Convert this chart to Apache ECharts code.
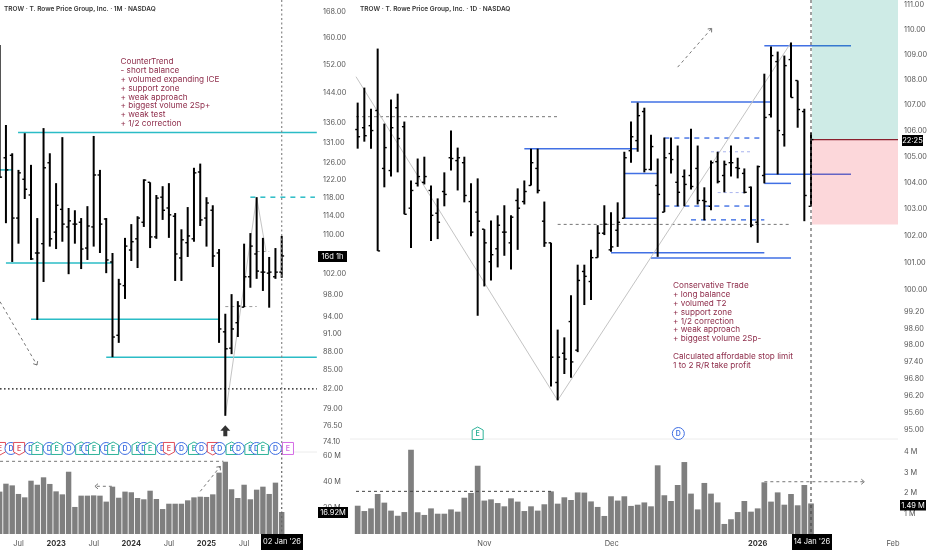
<!DOCTYPE html>
<html><head><meta charset="utf-8">
<style>html,body{margin:0;padding:0;background:#fff}#c{width:932px;height:550px}</style>
<script src="https://cdn.jsdelivr.net/npm/echarts@6/dist/echarts.min.js"></script>
</head><body><div id="c"></div>
<script>
// ---------- Monthly chart data ----------
const monthlyOpen=[136.8,127.3,127.9,113.5,122.2,118.6,106.2,108.1,126.1,110.5,115.4,111.6,112.2,112.6,107.2,111.6,123.2,113.3,104.4,90.8,99.8,106.8,109.1,112.6,121.5,109.5,118.1,115.7,113.9,105.2,108.3,109.1,123.9,113.5,115.2,106.2,91.4,88.6,93.0,95.8,101.5,106.0,102.4,102.2,101.5,102.4];
const monthlyHigh=[157.8,135.5,128.4,124.4,133.4,125.6,113.5,134.7,128.4,121.3,132.4,115.7,115.2,113.5,116.1,132.7,124.4,113.5,106.2,101.1,109.3,112.2,113.9,122.2,121.5,118.6,120.6,121.3,114.6,111.1,115.9,124.9,125.9,118.1,116.3,107.0,94.6,98.2,96.9,108.1,110.3,118.1,109.3,105.4,107.2,109.7];
const monthlyLow=[122.5,112.4,104.4,108.1,117.7,104.8,93.5,100.5,107.5,107.0,108.5,102.0,108.1,103.0,104.8,107.5,106.2,102.2,87.1,89.5,97.3,104.6,103.2,111.6,107.2,109.1,113.1,109.3,100.7,100.7,105.4,108.5,111.8,107.5,103.4,89.5,77.9,87.6,90.5,95.8,99.4,101.1,98.8,95.7,101.1,101.3];
const monthlyClose=[122.7,124.4,113.5,123.7,119.9,105.0,106.2,124.9,109.1,116.3,112.2,112.9,112.2,107.0,111.8,123.2,112.2,104.8,90.5,100.1,107.6,108.5,113.5,122.0,109.5,117.9,115.2,114.2,106.0,108.9,109.7,123.7,113.1,116.8,105.6,91.9,88.5,91.9,96.0,101.5,107.6,102.6,102.4,102.4,102.4,105.6];
const monthlyVolume=[32.6,38.7,37.4,30.8,28.2,41.0,37.9,43.6,38.5,32.8,30.5,47.9,20.8,29.5,29.5,29.7,29.5,24.9,36.4,27.9,32.6,32.1,27.7,26.7,33.3,26.9,19.2,23.3,23.3,23.3,25.9,28.2,28.7,28.5,30.5,47.2,55.6,34.4,27.7,37.9,26.7,34.1,36.4,30.8,39.5,16.92];
const monthlyPriceTicks=[168,160,152,144,136,131,126,122,118,114,110,102,98,94,91,88,85,82,79,76.5,74.1];
const monthlyVolumeTicks=[20,40,60];
const monthlyDateIdx=[3,9,15,21,27,33,39];
const monthlyDateText=['Jul','2023','Jul','2024','Jul','2025','Jul'];
// level lines [from bar, to bar, price]
const monthlyTeal=[[0,2,124.4],[2.93,50.6,133.6],[1,18,104.2],[5,35,93.6],[17,50.6,87.1]];
const monthlyTealDash=[[40,50.3,118.1]];
const monthlyBlackDots=[[0.06,50.6,82.0]];
const monthlyGreyDash=[[36,41,95.9],[41,43,106.5]];
const monthlyTrend=[[36,77.9,41,118.1],[41,118.1,42.5,106.5]];
const monthlyArrows=[[0.06,96.8,5.95,85.8]];
const monthlyVolDash=[[0.06,55.9,35.7,55.9]];
const monthlyVolArrows=[[17.9,36.7,15.2,36.7],[32,32.8,35.2,52]];
const monthlyEventIdx=[0.05,1.8,3.1,4.95,6,7.9,9.1,11.05,13,14,15.05,17,18.1,20,22,23,24,26,27,29,31,32.2,34,35.1,37,38.1,40,41,42,44,46];
const monthlyEventKind=['R','D','R','D','G','D','G','D','G','D','G','D','G','D','G','D','G','D','R','D','G','D','R','D','G','D','G','D','G','D','V'];
const monthlyEventPrice=73.2;
const buyArrow=[[36,75.7]];

// ---------- Daily chart data ----------
const dailyOpen=[106.05,106.12,106.20,106.79,104.55,104.47,106.90,106.16,103.04,103.98,104.02,103.71,102.85,103.67,104.96,104.85,104.77,103.29,102.89,102.25,101.04,101.52,102.14,101.74,103.33,103.29,103.90,104.55,102.55,101.74,96.67,97.71,98.85,97.82,100.68,100.31,101.19,102.10,101.48,102.21,102.66,105.23,105.62,106.75,104.51,103.90,102.89,105.12,104.02,104.24,104.28,104.55,103.33,103.11,104.81,104.28,104.77,104.58,104.36,103.83,102.51,104.28,106.63,108.72,105.85,108.80,107.97,106.75,103.11];
const dailyHigh=[107.10,107.69,106.86,109.24,106.28,107.22,107.45,106.36,104.09,104.93,105.00,103.90,103.41,104.40,106.01,105.35,105.00,103.98,104.17,102.25,102.58,102.77,103.15,102.77,103.79,104.09,105.31,105.31,103.29,101.74,98.56,98.28,99.81,100.93,100.93,101.48,102.40,103.15,102.89,103.26,105.19,106.36,107.10,106.90,105.85,104.93,105.74,105.74,105.43,104.51,106.08,105.43,103.83,104.85,105.19,104.85,105.43,104.96,104.55,103.86,104.66,108.24,109.32,109.12,108.96,109.48,107.97,106.86,105.93];
const dailyLow=[105.31,105.58,105.31,101.44,103.83,104.24,104.40,102.81,101.55,103.86,103.94,101.81,101.88,103.11,104.47,103.71,103.26,101.99,99.06,100.13,100.35,100.83,101.26,100.75,101.48,103.18,103.90,103.60,101.59,96.53,96.04,96.97,96.84,97.75,99.45,99.63,101.19,102.03,101.41,101.59,102.66,104.77,105.19,104.40,104.47,101.22,102.89,104.36,103.11,103.11,103.75,103.18,102.58,102.96,103.98,103.64,104.24,104.17,103.60,102.32,101.74,103.98,106.52,104.32,105.39,107.30,106.12,102.55,103.11];
const dailyClose=[105.77,105.81,106.01,101.44,105.35,106.12,105.70,102.81,103.71,104.24,104.24,102.77,102.51,103.56,104.93,104.96,103.52,102.14,102.55,101.74,101.30,102.40,102.14,102.70,103.04,103.67,104.77,103.71,101.74,97.57,97.57,97.50,97.40,100.35,100.50,101.19,102.10,102.44,101.59,102.51,104.96,105.77,106.59,104.51,105.39,103.56,104.96,104.89,103.64,103.94,103.86,103.33,103.29,104.77,104.05,104.70,104.77,104.55,103.64,102.40,104.62,106.52,108.96,106.01,108.56,107.30,106.83,103.52,105.66];
const dailyVolume=[1.38,1.12,1.25,1.95,1.53,1.14,0.89,1.07,4.11,1.06,0.93,1.25,0.99,0.99,1.20,1.09,1.77,2.00,3.33,1.63,1.69,1.51,1.35,1.74,1.58,1.12,1.35,1.14,1.45,2.08,1.48,1.79,1.66,2.03,2.02,1.59,1.32,0.88,1.84,1.63,1.84,1.37,1.43,1.54,1.35,3.35,1.89,1.61,2.39,3.51,1.97,1.20,2.49,1.97,1.54,0.49,0.72,1.07,1.61,1.09,1.25,2.52,1.58,2.03,1.43,1.95,1.40,2.39,1.49];
const dailyPriceTicks=[111,110,109,108,107,106,105,104,103,102,101,100,99.2,98.6,98,97.4,96.8,96.2,95.6,95];
const dailyVolumeTicks=[1,2,3,4];
const dailyDateIdx=[19,38.1,60,80.3];
const dailyDateText=['Nov','Dec','2026','Feb'];
const dailyBlue=[[25,42,105.31],[41,62,107.12],[40,45,104.36],[40,45,102.66],[38,61,101.37],[44,65,101.18],[61,74,109.35],[61,74,104.33],[61,65,103.98]];
const dailyBlueDash=[[46,61,105.72],[46,59,103.12],[50,61,102.6]];
const dailyLilacDash=[[53,59,105.19],[54,58,103.63]];
const dailyGreyDash=[[-0.25,30,106.55],[30,65,102.43]];
const dailyTrend=[[-0.25,108.12,30,96.04],[30,96.04,65,109.48]];
const dailyArrows=[[48,108.5,53.1,110.05]];
const dailyVolDash=[[-0.25,2.08,29,2.08]];
const dailyVolArrows=[[61,2.55,76,2.55]];
const dailyEventIdx=[18,48.1];
const dailyEventKind=['G','D'];
const dailyEventPrice=94.88;
const entryPrice=105.66, stopPrice=102.43, targetPrice=111.2, boxFrom=68.15, boxTo=81.05;

// ---------- Axis extents ----------
const mPriceMin=72.71, mPriceMax=171.9, mXMin=0.0527, mXMax=50.63, mVolMax=62.3;
const dPriceMin=94.69, dPriceMax=111.2, dXMin=-1.15, dXMax=81.05, dVolMax=4.634;

const TXT='#555', UI='Inter, "Liberation Sans", sans-serif';
const COL={R:'#e0505c',G:'#2fb39a',D:'#3f6fe3',V:'#d56be6'};

function ohlc(xi,yi,o,h,l,c){
  return {type:'custom',xAxisIndex:xi,yAxisIndex:yi,z:5,silent:true,clip:false,
    data:o.map((v,i)=>[i,v,h[i],l[i],c[i]]),encode:{x:0,y:[1,2,3,4]},
    renderItem(p,api){
      const i=api.value(0),co=api.coord([i,api.value(1)]),ch=api.coord([i,api.value(2)]),
            cl=api.coord([i,api.value(3)]),cc=api.coord([i,api.value(4)]);
      const st={stroke:'#000',lineWidth:2}, tk={stroke:'#000',lineWidth:1.4};
      return {type:'group',children:[
        {type:'line',shape:{x1:ch[0],y1:ch[1],x2:cl[0],y2:cl[1]},style:st},
        {type:'line',shape:{x1:co[0]-2.4,y1:co[1],x2:co[0],y2:co[1]},style:tk},
        {type:'line',shape:{x1:cc[0],y1:cc[1],x2:cc[0]+2.4,y2:cc[1]},style:tk}]};
    }};
}
function segs(xi,yi,rows,style,arrow,z){
  return {type:'custom',xAxisIndex:xi,yAxisIndex:yi,z:z||2,silent:true,clip:false,
    data:rows,encode:{x:[0,2],y:[1,3]},
    renderItem(p,api){
      const a=api.coord([api.value(0),api.value(1)]),b=api.coord([api.value(2),api.value(3)]);
      const ch=[{type:'line',shape:{x1:a[0],y1:a[1],x2:b[0],y2:b[1]},style:style}];
      if(arrow){
        const t=Math.atan2(b[1]-a[1],b[0]-a[0]),L=4;
        ch.push({type:'polyline',shape:{points:[
          [b[0]-L*Math.cos(t-0.7),b[1]-L*Math.sin(t-0.7)],b,
          [b[0]-L*Math.cos(t+0.7),b[1]-L*Math.sin(t+0.7)]]},
          style:{stroke:style.stroke,lineWidth:1,fill:null}});
      }
      return {type:'group',children:ch};
    }};
}
const lv=r=>r.map(v=>[v[0],v[2],v[1],v[2]]);
function rects(xi,yi,rows,fill){
  return {type:'custom',xAxisIndex:xi,yAxisIndex:yi,z:3,silent:true,clip:false,data:rows,encode:{x:[0,2],y:[1,3]},
    renderItem(p,api){
      const a=api.coord([api.value(0),api.value(1)]),b=api.coord([api.value(2),api.value(3)]);
      return {type:'rect',shape:{x:a[0],y:a[1],width:b[0]-a[0],height:b[1]-a[1]},style:{fill:fill}};
    }};
}
function events(xi,yi,idx,kinds,price){
  return {type:'custom',xAxisIndex:xi,yAxisIndex:yi,z:6,silent:true,clip:false,
    data:idx.map(v=>[v,price]),encode:{x:0,y:1},
    renderItem(p,api){
      const k=kinds[p.dataIndex],c=api.coord([api.value(0),api.value(1)]),col=COL[k],x=c[0],y=c[1],r=6;
      let shape;
      if(k==='D') shape={type:'circle',shape:{cx:x,cy:y,r:r},style:{fill:'#fff',stroke:col,lineWidth:1}};
      else{
        let pts;
        if(k==='G') pts=[[x,y-r-0.5],[x+r-0.5,y-r+2.5],[x+r-0.5,y+r],[x-r+0.5,y+r],[x-r+0.5,y-r+2.5]];
        else if(k==='R') pts=[[x-r+0.5,y-r],[x+r-0.5,y-r],[x+r-0.5,y+r-2.5],[x,y+r+0.5],[x-r+0.5,y+r-2.5]];
        else pts=[[x-r+0.5,y-r],[x+r-0.5,y-r],[x+r-0.5,y+r],[x-r+0.5,y+r]];
        shape={type:'polygon',shape:{points:pts},style:{fill:'#fff',stroke:col,lineWidth:1}};
      }
      return {type:'group',children:[shape,
        {type:'text',style:{text:k==='D'?'D':'E',x:x,y:y,align:'center',verticalAlign:'middle',fill:col,font:'600 7px '+UI}}]};
    }};
}
function xAxisOf(g,min,max,idx,text){
  const a={type:'value',gridIndex:g,min:min,max:max,axisLine:{show:false},axisTick:{show:false},splitLine:{show:false},axisLabel:{show:false}};
  if(idx){
    a.axisLabel={show:true,customValues:idx,margin:6,fontSize:7.5,color:TXT,fontFamily:UI,hideOverlap:false,
      formatter:v=>{const s=text[idx.indexOf(v)];return /^\d+$/.test(s)?'{b|'+s+'}':s;},
      rich:{b:{fontWeight:'bold',fontSize:7.5,color:'#333',fontFamily:UI}}};
  }
  return a;
}
function yLog(g,min,max,ticks){
  return {type:'log',gridIndex:g,position:'right',min:min,max:max,axisLine:{show:false},axisTick:{show:false},splitLine:{show:false},
    axisLabel:{customValues:ticks,margin:6,fontSize:7.3,color:TXT,fontFamily:UI,align:'left',hideOverlap:false,showMinLabel:true,showMaxLabel:true,formatter:v=>(+v).toFixed(2)}};
}
function yVol(g,max,ticks){
  return {type:'value',gridIndex:g,position:'right',min:0,max:max,axisLine:{show:false},axisTick:{show:false},splitLine:{show:false},
    axisLabel:{customValues:ticks,margin:6,fontSize:7.3,color:TXT,fontFamily:UI,align:'left',hideOverlap:false,formatter:v=>v+' M'}};
}
const thin=(c,w,d)=>d?{stroke:c,lineWidth:w,lineDash:d}:{stroke:c,lineWidth:w};
const TEAL='#2bbcc6',BLUE='#4170e4',GREY='#777',TREND='#c4c4c4';

const option={animation:false,backgroundColor:'#fff',
  grid:[
    {left:0,top:0,width:317,height:452},
    {left:0,top:453,width:317,height:81},
    {left:350,top:0,width:548,height:439},
    {left:350,top:439,width:548,height:95}],
  xAxis:[xAxisOf(0,mXMin,mXMax),xAxisOf(1,mXMin,mXMax,monthlyDateIdx,monthlyDateText),
         xAxisOf(2,dXMin,dXMax),xAxisOf(3,dXMin,dXMax,dailyDateIdx,dailyDateText)],
  yAxis:[yLog(0,mPriceMin,mPriceMax,monthlyPriceTicks),yVol(1,mVolMax,monthlyVolumeTicks),
         yLog(2,dPriceMin,dPriceMax,dailyPriceTicks),yVol(3,dVolMax,dailyVolumeTicks)],
  series:[
    // monthly
    segs(0,0,[[mXMin,mPriceMin,mXMax,mPriceMin]],thin('#ececec',1),false,1),
    segs(0,0,lv(monthlyTeal),thin(TEAL,1.5)),
    segs(0,0,lv(monthlyTealDash),thin(TEAL,1.5,[5,5])),
    segs(0,0,lv(monthlyBlackDots),thin('#000',1.4,[1.5,2.5])),
    segs(0,0,lv(monthlyGreyDash),thin('#999',1,[3,3])),
    segs(0,0,monthlyTrend,thin(TREND,1)),
    segs(0,0,monthlyArrows,thin(GREY,1,[3,3]),true),
    segs(1,1,monthlyVolDash,thin(GREY,1,[3,3]),false,6),
    segs(1,1,monthlyVolArrows,thin(GREY,1,[3,3]),true,6),
    {type:'bar',xAxisIndex:1,yAxisIndex:1,z:3,barWidth:5.4,silent:true,data:monthlyVolume.map((v,i)=>[i,v]),itemStyle:{color:'#7f7f7f'}},
    ohlc(0,0,monthlyOpen,monthlyHigh,monthlyLow,monthlyClose),
    events(0,0,monthlyEventIdx,monthlyEventKind,monthlyEventPrice),
    {type:'scatter',xAxisIndex:0,yAxisIndex:0,z:6,silent:true,data:buyArrow,symbol:'path://M5 0L10 6L7 6L7 12L3 12L3 6L0 6Z',symbolSize:[10,11],itemStyle:{color:'#000'}},
    segs(0,0,[[45,mPriceMax,45,mPriceMin]],thin('#888',1.2,[2,2.5]),false,7),
    segs(1,1,[[45,mVolMax,45,0]],thin('#666',1.2,[2,2.5]),false,7),
    // daily
    segs(2,2,[[dXMin,dPriceMin,dXMax,dPriceMin]],thin('#ececec',1),false,1),
    rects(2,2,[[boxFrom,targetPrice,boxTo,entryPrice]],'rgba(8,153,129,0.2)'),
    rects(2,2,[[boxFrom,entryPrice,boxTo,stopPrice]],'rgba(242,54,69,0.2)'),
    segs(2,2,lv(dailyBlue),thin(BLUE,1.5)),
    segs(2,2,lv(dailyBlueDash),thin(BLUE,1.4,[5,5])),
    segs(2,2,lv(dailyLilacDash),thin('#a9b4ee',1,[3,3])),
    segs(2,2,lv(dailyGreyDash),thin(GREY,1,[3,3])),
    segs(2,2,dailyTrend,thin(TREND,1)),
    segs(2,2,dailyArrows,thin(GREY,1,[3,3]),true),
    segs(3,3,dailyVolDash,thin('#444',1,[3,3]),false,6),
    segs(3,3,dailyVolArrows,thin(GREY,1,[3,3]),true,6),
    {type:'bar',xAxisIndex:3,yAxisIndex:3,z:3,barWidth:5.7,silent:true,data:dailyVolume.map((v,i)=>[i,v]),itemStyle:{color:'#7f7f7f'}},
    ohlc(2,2,dailyOpen,dailyHigh,dailyLow,dailyClose),
    events(2,2,dailyEventIdx,dailyEventKind,dailyEventPrice),
    segs(2,2,[[boxFrom,entryPrice,boxTo,entryPrice]],thin('#8a1f2d',1.2),false,4),
    segs(2,2,[[68,dPriceMax,68,dPriceMin]],thin('#555',1.1,[3,3]),false,7),
    segs(3,3,[[68,dVolMax,68,0]],thin('#444',1.1,[3,3]),false,7)
  ],
  graphic:[]
};

const NOTE='#8e2c4a';
const tag=(t,x,y,w,h)=>({type:'group',z:50,children:[
  {type:'rect',z:50,shape:{x:x,y:y,width:w,height:h},style:{fill:'#000'}},
  {type:'text',z:51,style:{text:t,x:x+w/2,y:y+h/2,align:'center',verticalAlign:'middle',fill:'#fff',font:'7.5px '+UI}}]});
const txt=(t,x,y,font,fill,lh)=>({type:'text',z:40,style:{text:t,x:x,y:y,font:font,fill:fill,lineHeight:lh}});
option.graphic=[
  txt('TROW · T. Rowe Price Group, Inc. · 1M · NASDAQ',4,5.5,'600 6.5px '+UI,'#333'),
  txt('TROW · T. Rowe Price Group, Inc. · 1D · NASDAQ',360,5.5,'600 6.5px '+UI,'#333'),
  txt('CounterTrend\n- short balance\n+ volumed expanding ICE\n+ support zone\n+ weak approach\n+ biggest volume 2Sp+\n+ weak test\n+ 1/2 correction',120.5,57.5,'8.2px '+UI,NOTE,8.8),
  txt('Conservative Trade\n+ long balance\n+ volumed T2\n+ support zone\n+ 1/2 correction\n+ weak approach\n+ biggest volume 2Sp-\n\nCalculated affordable stop limit\n1 to 2 R/R take profit',673,281.5,'8.2px '+UI,NOTE,8.8),
  tag('16d 1h',318,251,29,11),
  tag('16.92M',318,507,30,11),
  tag("02 Jan '26",261,534,42,16),
  tag('22:25',902,135,21,11),
  tag('1.49 M',900,500,26,10.5),
  tag("14 Jan '26",792,534,40,16)
];
echarts.init(document.getElementById('c'),null,{renderer:'canvas'}).setOption(option);
</script></body></html>
